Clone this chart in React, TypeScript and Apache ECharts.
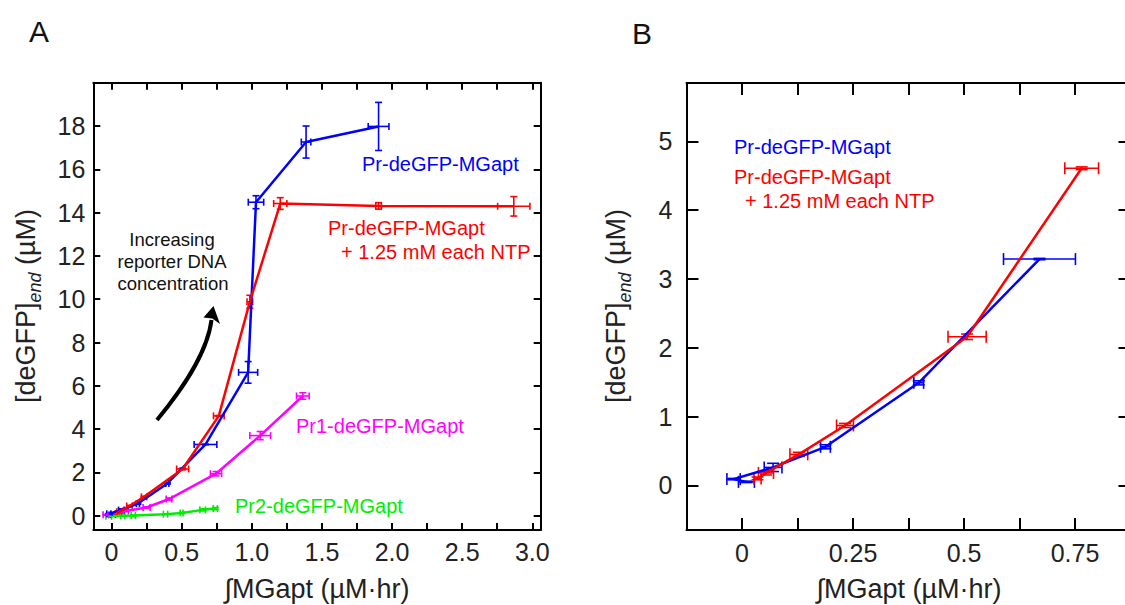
import { useEffect, useRef } from 'react';
import * as echarts from 'echarts';

// Pr-deGFP-MGapt (blue)
const prX = [0.01, -0.019, 0.07, 0.188, 0.398, 0.67, 0.974, 1.03, 1.387, 1.904];
const prY = [0.05, 0.09, 0.26, 0.56, 1.49, 3.29, 6.62, 14.48, 17.26, 17.98];
const prXErr = [0.018, 0.015, 0.02, 0.011, 0.011, 0.081, 0.068, 0.055, 0.034, 0.074];
const prYErr = [0.01, 0.01, 0.06, 0.03, 0.03, 0.01, 0.5, 0.3, 0.74, 1.11];

// Pr-deGFP-MGapt + 1.25 mM each NTP (red)
const ntpX = [0.035, 0.054, 0.128, 0.232, 0.507, 0.765, 0.986, 1.203, 1.904, 2.868];
const ntpY = [0.1, 0.18, 0.45, 0.87, 2.16, 4.61, 9.88, 14.42, 14.31, 14.29];
const ntpXErr = [0.008, 0.017, 0.02, 0.019, 0.043, 0.038, 0.02, 0.047, 0.02, 0.115];
const ntpYErr = [0.02, 0.03, 0.03, 0.03, 0.04, 0.02, 0.3, 0.27, 0.15, 0.45];

// Pr1-deGFP-MGapt (magenta)
const pr1X = [-0.04, 0.1, 0.25, 0.41, 0.745, 1.06, 1.364];
const pr1Y = [0.04, 0.22, 0.38, 0.77, 1.94, 3.7, 5.53];
const pr1XErr = [0.02, 0.02, 0.025, 0.02, 0.04, 0.074, 0.045];
const pr1YErr = [0.02, 0.03, 0.03, 0.05, 0.1, 0.19, 0.15];

// Pr2-deGFP-MGapt (green)
const pr2X = [-0.02, 0.08, 0.155, 0.385, 0.5, 0.65, 0.74];
const pr2Y = [-0.03, 0.0, 0.01, 0.07, 0.13, 0.27, 0.33];
const pr2XErr = [0.02, 0.015, 0.015, 0.015, 0.01, 0.02, 0.015];
const pr2YErr = [0.02, 0.02, 0.02, 0.02, 0.02, 0.05, 0.05];

// how many points of the blue / red sets fall inside panel B
const zoomCount = 6;

const ticksAX = [0, 0.25, 0.5, 0.75, 1, 1.25, 1.5, 1.75, 2, 2.25, 2.5, 2.75, 3];
const labelsAX = [0, 0.5, 1, 1.5, 2, 2.5, 3];
const ticksAY = [0, 2, 4, 6, 8, 10, 12, 14, 16, 18];
const ticksBX = [0, 0.125, 0.25, 0.375, 0.5, 0.625, 0.75];
const labelsBX = [0, 0.25, 0.5, 0.75];
const ticksBY = [0, 1, 2, 3, 4, 5];

const FONT = '"Liberation Sans", Arial, Helvetica, sans-serif';
const BLUE = '#0000ff';
const RED = '#ff0000';
const MAGENTA = '#ff00ff';
const GREEN = '#00ee00';

const pairs = (xs: number[], ys: number[]) => xs.map((x, i) => [x, ys[i]]);
const quads = (xs: number[], ys: number[], ex: number[], ey: number[]) =>
  xs.map((x, i) => [x, ys[i], ex[i], ey[i]]);

const errorBars = (cap: number, color: string) => (_params: any, api: any) => {
  const x = api.value(0);
  const y = api.value(1);
  const ex = api.value(2);
  const ey = api.value(3);
  const l = api.coord([x - ex, y]);
  const r = api.coord([x + ex, y]);
  const t = api.coord([x, y + ey]);
  const b = api.coord([x, y - ey]);
  const style = { stroke: color, lineWidth: 1.6 };
  const seg = (x1: number, y1: number, x2: number, y2: number) => ({
    type: 'line',
    shape: { x1, y1, x2, y2 },
    style,
  });
  return {
    type: 'group',
    children: [
      seg(l[0], l[1], r[0], r[1]),
      seg(l[0], l[1] - cap, l[0], l[1] + cap),
      seg(r[0], r[1] - cap, r[0], r[1] + cap),
      seg(t[0], t[1], b[0], b[1]),
      seg(t[0] - cap, t[1], t[0] + cap, t[1]),
      seg(b[0] - cap, b[1], b[0] + cap, b[1]),
    ],
  };
};

const lineSeries = (data: number[][], color: string, axis: number) => ({
  type: 'line',
  xAxisIndex: axis,
  yAxisIndex: axis,
  data,
  symbol: 'none',
  lineStyle: { color, width: 2.5 },
  z: 3,
});

const errSeries = (data: number[][], color: string, axis: number, cap: number) => ({
  type: 'custom',
  xAxisIndex: axis,
  yAxisIndex: axis,
  data,
  encode: { x: 0, y: 1 },
  renderItem: errorBars(cap, color),
  z: 2,
});

const axisBase = (tickLen: number) => ({
  type: 'value',
  axisLine: { show: true, onZero: false, lineStyle: { color: '#000', width: 2 } },
  splitLine: { show: false },
  axisTick: { show: true, inside: true, length: tickLen, lineStyle: { color: '#000', width: 2 } },
});

const labelStyle = { color: '#222', fontSize: 25, fontFamily: FONT };

const txt = (text: string, x: number, y: number, color: string, size: number, align = 'left') => ({
  type: 'text',
  x,
  y,
  style: { text, fill: color, fontSize: size, fontFamily: FONT, align, verticalAlign: 'middle' },
});

const yTitle = (x: number, y: number) => ({
  type: 'text',
  x,
  y,
  rotation: Math.PI / 2,
  style: {
    text: '{a|[deGFP]}{b|end}{a| (µM)}',
    align: 'center',
    verticalAlign: 'middle',
    fill: '#222',
    fontFamily: FONT,
    rich: {
      a: { fontSize: 27, fontFamily: FONT, fill: '#222', lineHeight: 36, verticalAlign: 'middle' },
      b: { fontSize: 18, fontFamily: FONT, fontStyle: 'italic', fill: '#222', lineHeight: 20, verticalAlign: 'bottom' },
    },
  },
});

export default function App() {
  const chartRef = useRef<HTMLDivElement>(null);

  useEffect(() => {
    if (!chartRef.current) return;
    const chart = echarts.init(chartRef.current, undefined, { renderer: 'svg' });

    const axA = axisBase(7);
    const axB = axisBase(12);

    const option = {
      animation: false,
      backgroundColor: '#fff',
      grid: [
        { left: 93.3, top: 82.7, width: 447.4, height: 447.3 },
        // panel B's right frame sits just past the picture's edge
        { left: 686.5, top: 83, width: 444, height: 447 },
      ],
      xAxis: [
        {
          ...axA,
          gridIndex: 0,
          position: 'bottom',
          min: -0.13,
          max: 3.06,
          axisTick: { ...axA.axisTick, customValues: ticksAX },
          axisLabel: {
            ...labelStyle,
            margin: 9,
            customValues: labelsAX,
            formatter: (v: number) => (v === 0 ? '0' : v.toFixed(1)),
          },
        },
        {
          ...axA,
          gridIndex: 0,
          position: 'top',
          min: -0.13,
          max: 3.06,
          axisTick: { ...axA.axisTick, customValues: ticksAX },
          axisLabel: { show: false },
        },
        {
          ...axB,
          gridIndex: 1,
          position: 'bottom',
          min: -0.125,
          max: 0.875,
          axisTick: { ...axB.axisTick, customValues: ticksBX },
          axisLabel: { ...labelStyle, margin: 10, customValues: labelsBX },
        },
        {
          ...axB,
          gridIndex: 1,
          position: 'top',
          min: -0.125,
          max: 0.875,
          axisTick: { ...axB.axisTick, customValues: ticksBX },
          axisLabel: { show: false },
        },
      ],
      yAxis: [
        {
          ...axA,
          gridIndex: 0,
          position: 'left',
          min: -0.66,
          max: 20,
          axisTick: { ...axA.axisTick, customValues: ticksAY },
          axisLabel: { ...labelStyle, margin: 8, customValues: ticksAY },
        },
        {
          ...axA,
          gridIndex: 0,
          position: 'right',
          min: -0.66,
          max: 20,
          axisTick: { ...axA.axisTick, customValues: ticksAY },
          axisLabel: { show: false },
        },
        {
          ...axB,
          gridIndex: 1,
          position: 'left',
          min: -0.65,
          max: 5.85,
          axisTick: { ...axB.axisTick, customValues: ticksBY },
          axisLabel: { ...labelStyle, margin: 14, customValues: ticksBY },
        },
        {
          ...axB,
          gridIndex: 1,
          position: 'right',
          min: -0.65,
          max: 5.85,
          axisTick: { ...axB.axisTick, customValues: ticksBY },
          axisLabel: { show: false },
        },
      ],
      series: [
        // panel A
        errSeries(quads(pr2X, pr2Y, pr2XErr, pr2YErr), GREEN, 0, 3.5),
        lineSeries(pairs(pr2X, pr2Y), GREEN, 0),
        errSeries(quads(pr1X, pr1Y, pr1XErr, pr1YErr), MAGENTA, 0, 3.5),
        lineSeries(pairs(pr1X, pr1Y), MAGENTA, 0),
        errSeries(quads(prX, prY, prXErr, prYErr), BLUE, 0, 3.5),
        lineSeries(pairs(prX, prY), BLUE, 0),
        errSeries(quads(ntpX, ntpY, ntpXErr, ntpYErr), RED, 0, 3.5),
        lineSeries(pairs(ntpX, ntpY), RED, 0),
        // panel B
        errSeries(quads(prX, prY, prXErr, prYErr).slice(0, zoomCount), BLUE, 2, 6),
        lineSeries(pairs(prX, prY).slice(0, zoomCount), BLUE, 2),
        errSeries(quads(ntpX, ntpY, ntpXErr, ntpYErr).slice(0, zoomCount), RED, 2, 6),
        lineSeries(pairs(ntpX, ntpY).slice(0, zoomCount), RED, 2),
      ],
      graphic: [
        txt('A', 39, 31, '#111', 30, 'center'),
        txt('B', 642, 33, '#111', 30, 'center'),
        txt('∫MGapt (µM·hr)', 317, 589, '#222', 27, 'center'),
        txt('∫MGapt (µM·hr)', 909, 589, '#222', 27, 'center'),
        yTitle(26, 306),
        yTitle(616, 306),
        txt('Pr-deGFP-MGapt', 362, 164, BLUE, 20),
        txt('Pr-deGFP-MGapt', 328, 228, RED, 20),
        txt('+ 1.25 mM each NTP', 341, 252, RED, 20),
        txt('Pr1-deGFP-MGapt', 296, 426, MAGENTA, 20),
        txt('Pr2-deGFP-MGapt', 235, 506, GREEN, 20),
        txt('Increasing', 172, 239, '#111', 18.5, 'center'),
        txt('reporter DNA', 172, 261, '#111', 18.5, 'center'),
        txt('concentration', 173, 283, '#111', 18.5, 'center'),
        txt('Pr-deGFP-MGapt', 734, 147, BLUE, 20),
        txt('Pr-deGFP-MGapt', 734, 177, RED, 20),
        txt('+ 1.25 mM each NTP', 745, 201, RED, 20),
        {
          type: 'bezierCurve',
          shape: { x1: 157, y1: 420, cpx1: 180, cpy1: 392, cpx2: 207, cpy2: 355, x2: 211.5, y2: 320 },
          style: { stroke: '#000', lineWidth: 4, fill: 'none' },
        },
        {
          type: 'polygon',
          shape: { points: [[213.5, 306], [220, 324], [212.3, 318.5], [203.5, 317.5]] },
          style: { fill: '#000' },
        },
      ],
    };

    chart.setOption(option as any);
    return () => chart.dispose();
  }, []);

  return (
    <div
      style={{ position: 'absolute', left: 0, top: 0, width: 1125, height: 605, overflow: 'hidden' }}
    >
      <div ref={chartRef} style={{ width: 1145, height: 605 }} />
    </div>
  );
}
